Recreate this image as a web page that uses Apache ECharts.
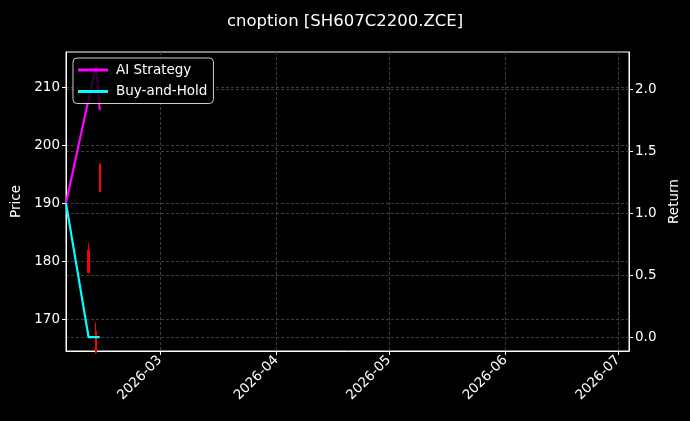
<!DOCTYPE html>
<html>
<head>
<meta charset="utf-8">
<script src="https://cdn.jsdelivr.net/npm/echarts@6/dist/echarts.min.js"></script>
<style>
html,body{margin:0;padding:0;background:#000;}
#chart{width:690px;height:421px;}
</style>
</head>
<body>
<div id="chart"></div>
<script>
// ---- data ----
const candleDates = ['2026-02-10', '2026-02-12', '2026-02-13'];
const candleOpen  = [181.9, 167.9, 196.8];
const candleClose = [178.0, 164.2, 192.0];
const candleLow   = [178.0, 164.0, 192.0];
const candleHigh  = [183.1, 169.4, 196.9];

const lineDates = ['2026-02-04', '2026-02-10', '2026-02-12', '2026-02-13'];
const aiReturn  = [1.083, 1.92, 2.198, 1.834];
const bhReturn  = [1.083, 0.0, 0.0, 0.0];

const xTickLabels = ['2026-03', '2026-04', '2026-05', '2026-06', '2026-07'];
const priceTicks = [170, 180, 190, 200, 210];
const returnTicks = [0.0, 0.5, 1.0, 1.5, 2.0];

// ---- helpers ----
function ts(s) {
  const p = s.split('-').map(Number);
  return new Date(p[0], p[1] - 1, p[2] || 1, p[3] || 0).getTime();
}
function fmtMonth(v) {
  const d = new Date(v);
  const m = d.getMonth() + 1;
  return d.getFullYear() + '-' + (m < 10 ? '0' + m : m);
}

const candleData = candleDates.map((d, i) => [ts(d), candleOpen[i], candleClose[i], candleLow[i], candleHigh[i]]);
const aiData = lineDates.map((d, i) => [ts(d), aiReturn[i]]);
const bhData = lineDates.map((d, i) => [ts(d), bhReturn[i]]);
const xTicks = xTickLabels.map(ts);

const FONT = 'DejaVu Sans';
const gridLine = { show: true, lineStyle: { color: '#4d4d4d', width: 0.8, type: [3, 2] } };

const chart = echarts.init(document.getElementById('chart'), null, { renderer: 'canvas' });
chart.setOption({
  animation: false,
  backgroundColor: '#000',
  textStyle: { fontFamily: FONT },
  title: {
    text: 'cnoption [SH607C2200.ZCE]',
    left: 'center',
    top: 8,
    textStyle: { color: '#fff', fontSize: 16.5, fontWeight: 'normal', fontFamily: FONT }
  },
  legend: {
    orient: 'vertical',
    left: 73,
    top: 58,
    padding: [5, 6, 5, 5],
    itemGap: 7.5,
    itemWidth: 30,
    itemHeight: 3,
    icon: 'rect',
    backgroundColor: 'rgba(0,0,0,0.8)',
    borderColor: '#ccc',
    borderWidth: 1,
    borderRadius: 4,
    textStyle: { color: '#fff', fontSize: 13.5, fontFamily: FONT, padding: [0, 0, 0, 3] },
    data: ['AI Strategy', 'Buy-and-Hold']
  },
  grid: {
    left: 66, right: 61, top: 52, bottom: 70,
    show: true, borderColor: '#fff', borderWidth: 1,
    outerBoundsMode: 'none'
  },
  xAxis: {
    type: 'value',
    min: ts('2026-02-04'),
    max: new Date(2026, 6, 3, 22).getTime(),
    axisLine: { show: true, onZero: false, lineStyle: { color: '#fff', width: 1 } },
    axisTick: { show: true, length: 4, lineStyle: { color: '#fff' }, customValues: xTicks },
    axisLabel: {
      color: '#fff', fontSize: 13.5, fontFamily: FONT, rotate: 45, margin: 7,
      customValues: xTicks, formatter: fmtMonth
    },
    splitLine: gridLine
  },
  yAxis: [
    {
      type: 'value',
      position: 'left',
      min: 164.5,
      max: 216.1,
      name: 'Price',
      nameLocation: 'middle',
      nameRotate: 90,
      nameGap: 42,
      nameTextStyle: { color: '#fff', fontSize: 13.5, fontFamily: FONT },
      axisLine: { show: true, lineStyle: { color: '#fff', width: 1 } },
      axisTick: { show: true, length: 4, lineStyle: { color: '#fff' }, customValues: priceTicks },
      axisLabel: { color: '#fff', fontSize: 13.5, fontFamily: FONT, margin: 6, customValues: priceTicks },
      splitLine: gridLine
    },
    {
      type: 'value',
      position: 'right',
      min: -0.113,
      max: 2.305,
      name: 'Return',
      nameLocation: 'middle',
      nameRotate: 90,
      nameGap: 36,
      nameTextStyle: { color: '#fff', fontSize: 13.5, fontFamily: FONT },
      axisLine: { show: true, lineStyle: { color: '#fff', width: 1 } },
      axisTick: { show: true, length: 4, lineStyle: { color: '#fff' }, customValues: returnTicks },
      axisLabel: {
        color: '#fff', fontSize: 13.5, fontFamily: FONT, margin: 6, customValues: returnTicks,
        formatter: v => Number(v).toFixed(1)
      },
      splitLine: gridLine
    }
  ],
  series: [
    {
      name: 'Price',
      type: 'candlestick',
      xAxisIndex: 0,
      yAxisIndex: 0,
      barWidth: 2,
      clip: true,
      encode: { x: 0, y: [1, 2, 3, 4] },
      itemStyle: { color: '#ff0000', color0: '#ff0000', borderColor: '#ff0000', borderColor0: '#ff0000', borderWidth: 1 },
      data: candleData
    },
    {
      name: 'AI Strategy',
      type: 'line',
      yAxisIndex: 1,
      showSymbol: false,
      symbol: 'none',
      lineStyle: { color: '#ff00ff', width: 2.2 },
      itemStyle: { color: '#ff00ff' },
      data: aiData,
      z: 3
    },
    {
      name: 'Buy-and-Hold',
      type: 'line',
      yAxisIndex: 1,
      showSymbol: false,
      symbol: 'none',
      lineStyle: { color: '#00ffff', width: 2.2 },
      itemStyle: { color: '#00ffff' },
      data: bhData,
      z: 3
    }
  ]
});
</script>
</body>
</html>
